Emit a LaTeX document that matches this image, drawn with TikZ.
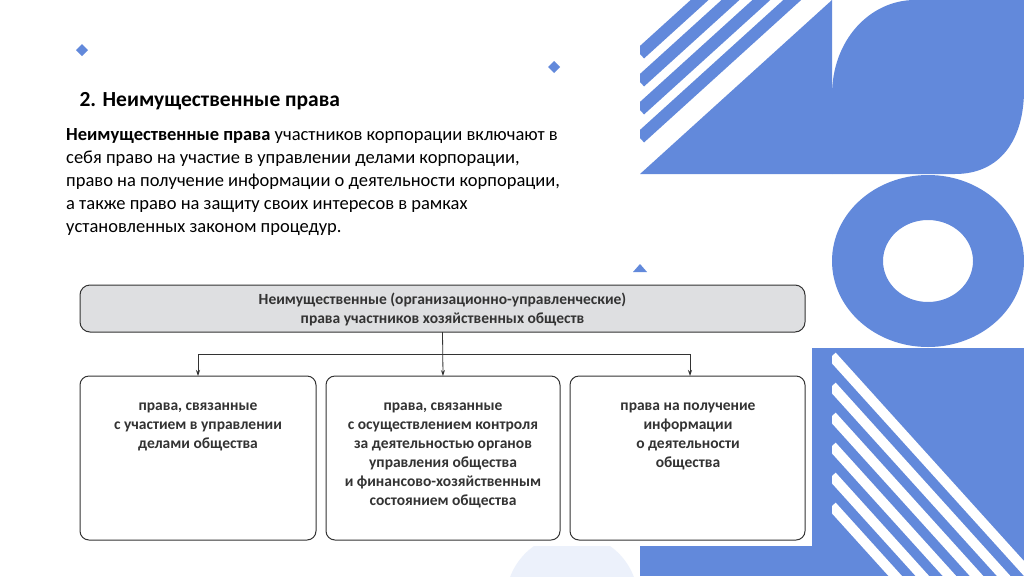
\documentclass[tikz,border=0pt]{standalone}
\usepackage{fontspec}
\setmainfont{Carlito}
\usetikzlibrary{arrows.meta}
\definecolor{bl}{RGB}{98,137,219}
\definecolor{pale}{RGB}{236,241,251}
\definecolor{gbox}{RGB}{222,223,225}
\begin{document}
\begin{tikzpicture}[x=1pt,y=-1pt,
  box/.style={draw=black!80,line width=1pt,rounded corners=9pt,fill=white},
  btxt/.style={font=\fontsize{15.5}{19}\selectfont\bfseries,text=black!80,align=center,anchor=north},
  arr/.style={draw=black!80,line width=0.8pt,-{Stealth[length=6pt,width=4pt]}}]
\useasboundingbox (0,0) rectangle (1024,576);
\fill[white] (0,0) rectangle (1024,576);
% decorations right
\begin{scope}
\clip (640,0) rectangle (832,174);
\fill[bl] (640,174) -- (832,0) -- (832,174) -- cycle;
\foreach \d in {28,56,84,112} \draw[bl,line width=12pt] (640,174-\d-8) -- ++(300,-272);
\end{scope}
\fill[bl,even odd rule] (928,261) ellipse [x radius=96,y radius=86] (928,261) ellipse [x radius=45,y radius=41];
\fill[bl] (832,174) -- (832,95) .. controls (832,40) and (870,0) .. (915,0) -- (1024,0) -- (1024,90) .. controls (1024,140) and (1000,174) .. (955,174) -- cycle;
\fill[bl] (640,348) rectangle (832,576);
\begin{scope}
\clip (832,348) rectangle (1024,576);
\fill[bl] (832,348) rectangle (1024,576);
\foreach \d in {0,30,60,90,120,150} \draw[white,line width=10pt] (832,348+\d+8) -- ++(300,332);
\end{scope}
\fill[pale] (572,600) circle (66);
% white diagram background
\fill[white] (70,272) rectangle (812,546);
% small marks
\fill[bl] (82,44) -- (88,50) -- (82,56) -- (76,50) -- cycle;
\fill[bl] (554,61) -- (560,67) -- (554,73) -- (548,67) -- cycle;
\fill[bl] (633,272) -- (640,264) -- (647,272) -- cycle;
% text
\node[anchor=west,font=\fontsize{21.5}{24}\selectfont\bfseries] (title) at (76,101) {2. Неимущественные права};
\node[anchor=north west,align=left,inner sep=0pt,font=\fontsize{18.5}{23}\selectfont] (para) at (66,128)
{\textbf{Неимущественные права} участников корпорации включают в\\себя право на участие в управлении делами корпорации,\\право на получение информации о деятельности корпорации,\\а также право на защиту своих интересов в рамках\\установленных законом процедур.};
% diagram
\draw[box,fill=gbox,rounded corners=10pt] (80,285) rectangle (805,332);
\node[btxt] (top) at (442.5,289) {Неимущественные (организационно-управленческие)\\права участников хозяйственных обществ};
\coordinate (topb) at (442.5,332);
\draw[box] (80,376) rectangle (316,540);
\draw[box] (326,376) rectangle (560,540);
\draw[box] (570,376) rectangle (805,540);
\coordinate (b1) at (198,376);
\coordinate (b2) at (443,376);
\coordinate (b3) at (690,376);
\node[btxt] (t1) at (198,399) {права, связанные\\с участием в управлении\\делами общества};
\node[btxt] (t2) at (443,399) {права, связанные\\с осуществлением контроля\\за деятельностью органов\\управления общества\\и финансово-хозяйственным\\состоянием общества};
\node[btxt] (t3) at (688,399) {права на получение\\информации\\о деятельности\\общества};
\draw[arr] (topb) -- (b2);
\draw[arr] (443,354) -| (b1);
\draw[arr] (443,354) -| (b3);
\end{tikzpicture}
\end{document}
